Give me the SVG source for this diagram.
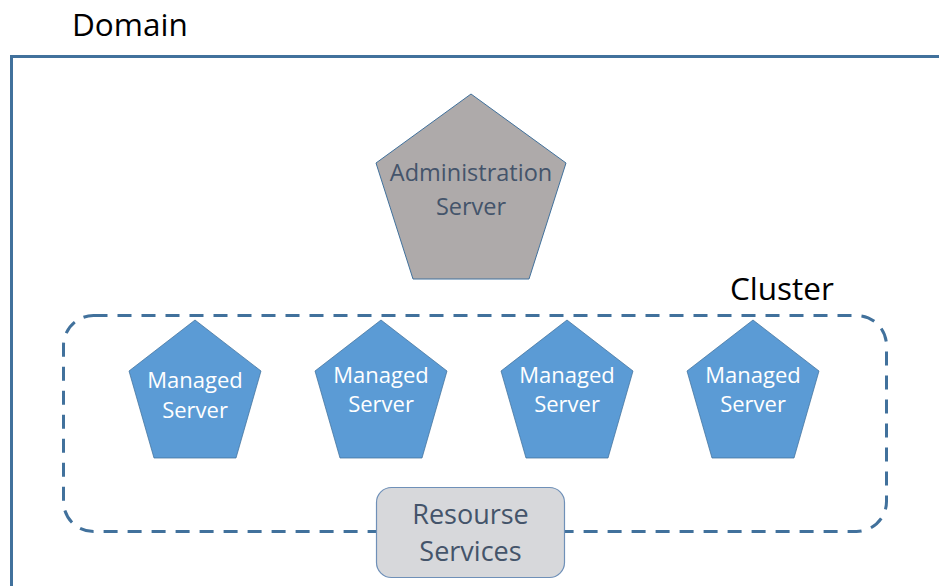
<svg xmlns="http://www.w3.org/2000/svg" width="939" height="586" viewBox="0 0 939 586">
  <style>
    .frame { fill: none; stroke: #41719C; stroke-width: 3; }
    .cluster { fill: none; stroke: #41719C; stroke-width: 3; stroke-dasharray: 14 10; }
    .title { font-family: "Open Sans", "Noto Sans", sans-serif; font-size: 31.5px; fill: #000000; }
    .admin { fill: #AEAAAA; stroke: #41719C; stroke-width: 1; }
    .managed { fill: #5B9BD5; stroke: #41719C; stroke-width: 0.75; }
    .res { fill: #D7D8DB; stroke: #6F90B8; stroke-width: 1.2; }
    .lbl { font-family: "Open Sans", "Noto Sans", sans-serif; text-anchor: middle; }
    .dark { fill: #44546A; }
    .white { fill: #FFFFFF; }
  </style>

  <rect width="939" height="586" fill="#FFFFFF"/>

  <!-- domain boundary, open to the right and bottom -->
  <g id="domain">
    <rect class="frame" x="11.5" y="56.5" width="960" height="560"/>
    <text class="title" x="72" y="36">Domain</text>
  </g>

  <!-- cluster boundary -->
  <g id="cluster">
    <rect class="cluster" x="63.5" y="315.5" width="823" height="216" rx="30" ry="30"/>
    <text class="title" x="730" y="300">Cluster</text>
  </g>

  <g id="admin-server">
    <polygon class="admin" points="471,94 566,163 529,279 413,279 376,163"/>
    <text class="lbl dark" font-size="23.5" x="471" y="181">Administration</text>
    <text class="lbl dark" font-size="23.5" x="471" y="215">Server</text>
  </g>

  <g id="managed-1">
    <polygon class="managed" points="195,320 261,371 236,458 154,458 129,371"/>
    <text class="lbl white" font-size="22" x="195" y="388">Managed</text>
    <text class="lbl white" font-size="22" x="195" y="418">Server</text>
  </g>

  <g id="managed-2">
    <polygon class="managed" points="381,320 447,371 422,458 340,458 315,371"/>
    <text class="lbl white" font-size="22" x="381" y="383">Managed</text>
    <text class="lbl white" font-size="22" x="381" y="412">Server</text>
  </g>

  <g id="managed-3">
    <polygon class="managed" points="567,320 633,371 608,458 526,458 501,371"/>
    <text class="lbl white" font-size="22" x="567" y="383">Managed</text>
    <text class="lbl white" font-size="22" x="567" y="412">Server</text>
  </g>

  <g id="managed-4">
    <polygon class="managed" points="753,320 819,371 794,458 712,458 687,371"/>
    <text class="lbl white" font-size="22" x="753" y="383">Managed</text>
    <text class="lbl white" font-size="22" x="753" y="412">Server</text>
  </g>

  <g id="resource-services">
    <rect class="res" x="376.5" y="487.5" width="188" height="90" rx="15" ry="15"/>
    <text class="lbl dark" font-size="27" x="470.5" y="524">Resourse</text>
    <text class="lbl dark" font-size="27" x="470.5" y="561">Services</text>
  </g>

  <g id="connectors"></g>
</svg>
